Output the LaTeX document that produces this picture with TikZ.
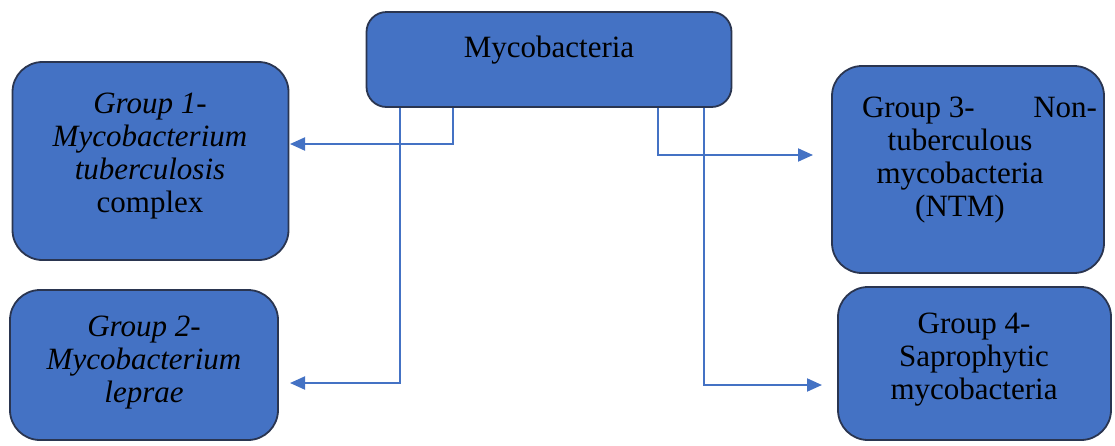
\documentclass[tikz,border=0pt]{standalone}
\usepackage{fontspec}
\setmainfont{Liberation Serif}
\usepackage{tikz}
\usetikzlibrary{arrows.meta,positioning}
\definecolor{boxblue}{HTML}{4472C4}
\definecolor{boxedge}{HTML}{2A3550}
\tikzset{font=\fontsize{31}{33}\selectfont}
\tikzset{grpbox/.style={draw=boxedge, line width=1.8pt, fill=boxblue, rounded corners=30pt}}
\tikzset{grptext/.style={align=center, inner sep=0pt}}
\tikzset{conn/.style={draw=boxblue, line width=2pt, -{Triangle[length=15pt,width=13pt]}}}

\begin{document}
\begin{tikzpicture}[x=1pt, y=-1pt]
  \useasboundingbox (0,0) rectangle (1115,445);

  \node[grpbox, rounded corners=20pt, minimum width=365pt, minimum height=95pt] (top) at (549,59.5) {};
  \node[grptext] (toptext) at (549,50) {Mycobacteria};

  \node[grpbox, minimum width=276pt, minimum height=198pt] (g1) at (150.5,161) {};
  \node[grptext] (g1text) at (150,156) {\textit{Group 1-}\\ \textit{Mycobacterium}\\ \textit{tuberculosis}\\ complex};

  \node[grpbox, minimum width=268pt, minimum height=150pt] (g2) at (144,365) {};
  \node[grptext] (g2text) at (144,363) {\textit{Group 2-}\\ \textit{Mycobacterium}\\ \textit{leprae}};

  \node[grpbox, minimum width=272pt, minimum height=207pt] (g3) at (968,169.5) {};
  \node[grptext] (g3text) at (960,160.5) {\hbox to 274pt{\kern39pt Group 3-\hfill Non-}\\ tuberculous\\ mycobacteria\\ (NTM)};

  \node[grpbox, minimum width=273pt, minimum height=153pt] (g4) at (974.5,363.5) {};
  \node[grptext] (g4text) at (974,360) {Group 4-\\ Saprophytic\\ mycobacteria};

  % arrow ends
  \coordinate (a1) at (290,144);
  \coordinate (a2) at (290,383);
  \coordinate (a3) at (813,155);
  \coordinate (a4) at (822,385);

  \draw[conn] ([xshift=-96pt]top.south) |- (a1);
  \draw[conn] ([xshift=-149pt]top.south) |- (a2);
  \draw[conn] ([xshift=109pt]top.south) |- (a3);
  \draw[conn] ([xshift=155pt]top.south) |- (a4);
\end{tikzpicture}
\end{document}
